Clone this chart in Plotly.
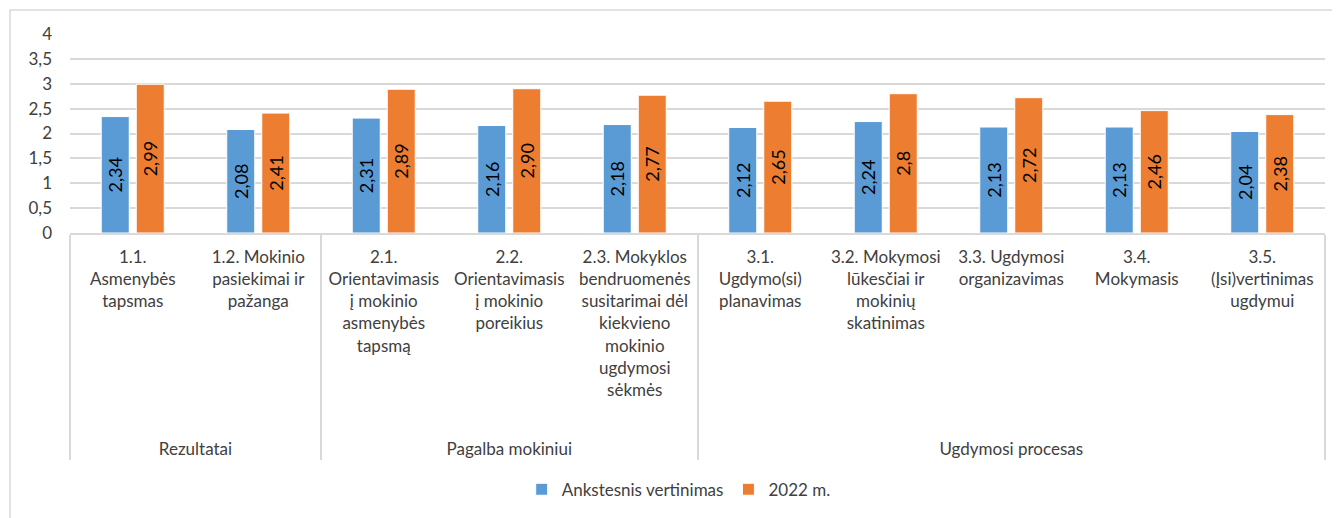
import plotly.graph_objects as go

groups = ["Rezultatai"] * 2 + ["Pagalba mokiniui"] * 3 + ["Ugdymosi procesas"] * 5
items = [
    "1.1.<br>Asmenybės<br>tapsmas",
    "1.2. Mokinio<br>pasiekimai ir<br>pažanga",
    "2.1.<br>Orientavimasis<br>į mokinio<br>asmenybės<br>tapsmą",
    "2.2.<br>Orientavimasis<br>į mokinio<br>poreikius",
    "2.3. Mokyklos<br>bendruomenės<br>susitarimai dėl<br>kiekvieno<br>mokinio<br>ugdymosi<br>sėkmės<br> <br> ",
    "3.1.<br>Ugdymo(si)<br>planavimas",
    "3.2. Mokymosi<br>lūkesčiai ir<br>mokinių<br>skatinimas",
    "3.3. Ugdymosi<br>organizavimas",
    "3.4.<br>Mokymasis",
    "3.5.<br>(Įsi)vertinimas<br>ugdymui",
]
prev_vals = [2.34, 2.08, 2.31, 2.16, 2.18, 2.12, 2.24, 2.13, 2.13, 2.04]
new_vals = [2.99, 2.41, 2.89, 2.90, 2.77, 2.65, 2.8, 2.72, 2.46, 2.38]
prev_text = ["2,34", "2,08", "2,31", "2,16", "2,18", "2,12", "2,24", "2,13", "2,13", "2,04"]
new_text = ["2,99", "2,41", "2,89", "2,90", "2,77", "2,65", "2,8", "2,72", "2,46", "2,38"]

FONT = "Lato, Calibri, sans-serif"
TXT = "#404040"
GRID = "#D9D9D9"

fig = go.Figure()
for name, vals, txt, col in [
    ("Ankstesnis vertinimas", prev_vals, prev_text, "#5B9BD5"),
    ("2022 m.", new_vals, new_text, "#ED7D31"),
]:
    fig.add_trace(go.Bar(
        x=[groups, items], y=vals, name=name,
        marker=dict(color=col, line=dict(color="white", width=1)),
        text=txt, textposition="inside", textangle=-90,
        insidetextanchor="middle", constraintext="none",
        textfont=dict(family=FONT, size=18, color="#000000"),
    ))

# page body has an 8px margin, so the figure is offset by 8px; margins compensate
fig.update_layout(
    barmode="group",
    bargap=0.442,
    bargroupgap=0.2,
    separators=", ",
    width=1340, height=518,
    margin=dict(l=62, r=23, t=26, b=293),
    paper_bgcolor="white", plot_bgcolor="white",
    font=dict(family=FONT, size=17, color=TXT),
    legend=dict(orientation="h", x=0.485, xanchor="center", y=-1.29, yanchor="middle",
                font=dict(size=17, color=TXT), itemwidth=30),
    xaxis=dict(
        type="multicategory", showgrid=False, showline=True, linecolor=GRID,
        linewidth=1.5, showdividers=True, dividercolor=GRID, dividerwidth=1.5,
        tickfont=dict(size=17, color=TXT), ticks="", ticklabelstandoff=8,
    ),
    yaxis=dict(
        range=[0, 4], dtick=0.5, showgrid=True, gridcolor=GRID, gridwidth=1.5,
        zeroline=False, showline=False, tickfont=dict(size=17, color=TXT),
        ticklabelstandoff=17,
    ),
    shapes=[dict(type="rect", xref="paper", yref="paper",
                 x0=-0.0478, x1=1.016, y0=-1.45, y1=1.1206,
                 line=dict(color=GRID, width=1.5), layer="below")],
)

fig.write_html("out.html")
